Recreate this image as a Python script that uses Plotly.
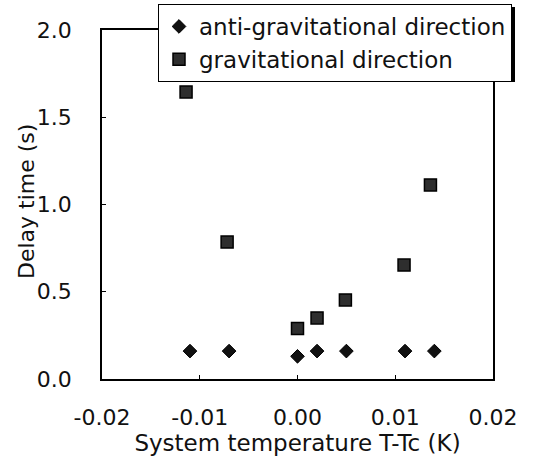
import plotly.graph_objects as go

# Data
anti_x = [-0.011, -0.007, 0.000, 0.002, 0.005, 0.011, 0.014]
anti_y = [0.16, 0.16, 0.13, 0.16, 0.16, 0.16, 0.16]
grav_x = [-0.0114, -0.0072, 0.000, 0.002, 0.0049, 0.0109, 0.0136]
grav_y = [1.645, 0.785, 0.29, 0.35, 0.453, 0.653, 1.112]

x_ticks = [-0.02, -0.01, 0.00, 0.01, 0.02]
x_tick_text = ["-0.02", "-0.01", "0.00", "0.01", "0.02"]
y_ticks = [0.0, 0.5, 1.0, 1.5, 2.0]
y_tick_text = ["0.0", "0.5", "1.0", "1.5", "2.0"]

FONT = "DejaVu Sans"
INK = "#111111"

W, H = 534, 462
ML, MR, MT, MB = 102, 41, 30, 83
PW, PH = W - ML - MR, H - MT - MB

fig = go.Figure()
fig.add_trace(go.Scatter(
    x=anti_x, y=anti_y, mode="markers", name="anti-gravitational direction",
    legendgroup="a",
    marker=dict(symbol="diamond", size=10.5, color=INK,
                line=dict(color="#000000", width=1)),
))
fig.add_trace(go.Scatter(
    x=grav_x, y=grav_y, mode="markers", name="gravitational direction",
    legendgroup="b",
    marker=dict(symbol="square", size=12, color="#2e2e2e",
                line=dict(color="#000000", width=1.5)),
))

axis_common = dict(
    showline=True, linecolor="black", linewidth=1.5, mirror=True,
    ticks="inside", ticklen=4, tickcolor="black", showgrid=False,
    zeroline=False, automargin=False,
    tickfont=dict(family=FONT, size=22, color=INK),
)

fig.update_xaxes(
    range=[-0.02, 0.02], tickvals=x_ticks, ticktext=x_tick_text,
    ticklabelstandoff=18,
    title=dict(text="System temperature T-Tc (K)",
               font=dict(family=FONT, size=23, color=INK), standoff=4),
    **axis_common,
)
fig.update_yaxes(
    range=[0, 2.0], tickvals=y_ticks, ticktext=y_tick_text,
    ticklabelstandoff=24,
    **axis_common,
)

# y-axis title placed as rotated text left of the tick labels
fig.add_annotation(
    text="Delay time (s)", textangle=-90, showarrow=False,
    xref="paper", yref="paper", x=(26 - ML) / PW, y=(MT + PH - 202) / PH,
    xanchor="center", yanchor="middle",
    font=dict(family=FONT, size=22, color=INK),
)

# legend drop shadow (paper coordinates)
fig.add_shape(type="rect", xref="paper", yref="paper", layer="above",
              x0=(161 - ML) / PW, x1=(515 - ML) / PW,
              y0=(MT + PH - 82) / PH, y1=(MT + PH - 7) / PH,
              fillcolor="black", line=dict(width=0))

fig.update_layout(
    width=W, height=H,
    margin=dict(l=ML, r=MR, t=MT, b=MB, autoexpand=False),
    paper_bgcolor="white", plot_bgcolor="white",
    showlegend=True,
    legend=dict(
        x=(158 - ML) / PW, y=(MT + PH - 4) / PH, xanchor="left", yanchor="top",
        bgcolor="white", bordercolor="black", borderwidth=1,
        font=dict(family=FONT, size=23, color=INK),
        tracegroupgap=0, itemwidth=30,
    ),
)

fig.write_html("out.html",
               config={"displayModeBar": False},
               post_script="document.body.style.margin='0';")
